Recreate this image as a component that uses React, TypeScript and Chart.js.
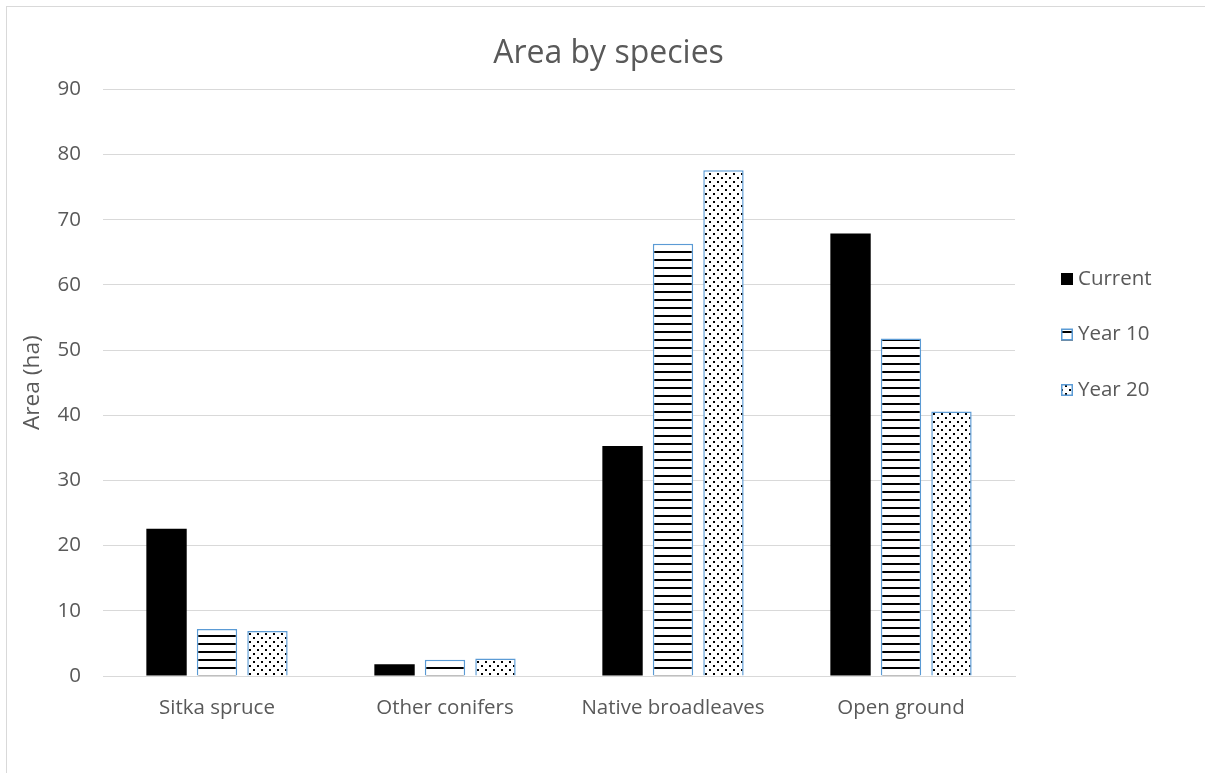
import React, { useEffect, useRef } from "react";
import { Chart, registerables } from "chart.js";

Chart.register(...registerables);

const categories = ["Sitka spruce", "Other conifers", "Native broadleaves", "Open ground"];
const seriesNames = ["Current", "Year 10", "Year 20"];
const currentValues = [22.6, 1.8, 35.3, 67.9];
const year10Values = [7.2, 2.5, 66.3, 51.8];
const year20Values = [6.9, 2.7, 77.6, 40.6];
const yMin = 0;
const yMax = 90;
const yStep = 10;
const chartTitle = "Area by species";
const yAxisTitle = "Area (ha)";

const FONT = "'Open Sans', sans-serif";
const TEXT = "#595959";
const GRID = "#d9d9d9";
const BLUE = "#5b9bd5";

function makeLinesPattern(ctx: CanvasRenderingContext2D) {
  const c = document.createElement("canvas");
  c.width = 8;
  c.height = 8;
  const g = c.getContext("2d")!;
  g.fillStyle = "#ffffff";
  g.fillRect(0, 0, 8, 8);
  g.fillStyle = "#000000";
  g.fillRect(0, 3, 8, 2);
  return ctx.createPattern(c, "repeat")!;
}

function makeDotsPattern(ctx: CanvasRenderingContext2D) {
  const c = document.createElement("canvas");
  c.width = 8;
  c.height = 8;
  const g = c.getContext("2d")!;
  g.fillStyle = "#ffffff";
  g.fillRect(0, 0, 8, 8);
  g.fillStyle = "#000000";
  g.fillRect(1, 1, 2, 2);
  g.fillRect(5, 5, 2, 2);
  return ctx.createPattern(c, "repeat")!;
}

const legendPlugin = {
  id: "customLegend",
  afterDraw(chart: any) {
    const ctx: CanvasRenderingContext2D = chart.ctx;
    const x0 = 1061;
    const y0 = 279;
    const gap = 55.5;
    const box = 12;
    ctx.save();
    chart.data.datasets.forEach((ds: any, i: number) => {
      const cy = y0 + i * gap;
      ctx.fillStyle = ds.backgroundColor;
      ctx.fillRect(x0, cy - box / 2, box, box);
      if (ds.borderWidth) {
        ctx.strokeStyle = ds.borderColor;
        ctx.lineWidth = 1.5;
        ctx.strokeRect(x0 + 0.75, cy - box / 2 + 0.75, box - 1.5, box - 1.5);
      }
      ctx.fillStyle = TEXT;
      ctx.font = `20.5px ${FONT}`;
      ctx.textBaseline = "middle";
      ctx.textAlign = "left";
      ctx.fillText(ds.label, x0 + box + 5, cy);
    });
    ctx.restore();
  },
};

export default function App() {
  const ref = useRef<HTMLCanvasElement>(null);

  useEffect(() => {
    const canvas = ref.current!;
    const ctx = canvas.getContext("2d")!;
    const lines = makeLinesPattern(ctx);
    const dots = makeDotsPattern(ctx);

    const chart = new Chart(canvas, {
      type: "bar",
      data: {
        labels: categories,
        datasets: [
          {
            label: seriesNames[0],
            data: currentValues,
            backgroundColor: "#000000",
            borderWidth: 0,
          },
          {
            label: seriesNames[1],
            data: year10Values,
            backgroundColor: lines as any,
            borderColor: BLUE,
            borderWidth: 1.5,
          },
          {
            label: seriesNames[2],
            data: year20Values,
            backgroundColor: dots as any,
            borderColor: BLUE,
            borderWidth: 1.5,
          },
        ],
      },
      options: {
        responsive: false,
        animation: false,
        devicePixelRatio: 1,
        datasets: {
          bar: {
            categoryPercentage: 0.664,
            barPercentage: 0.8,
          },
        },
        layout: {
          padding: { left: 12, right: 0, top: 0, bottom: 37 },
        },
        plugins: {
          legend: { display: false },
          tooltip: { enabled: false },
          title: {
            display: true,
            text: chartTitle,
            color: TEXT,
            font: { family: FONT, size: 32, weight: "normal" as any },
            padding: { top: 35, bottom: 16 },
          },
        },
        scales: {
          x: {
            grid: { display: false, drawTicks: false },
            border: { display: true, color: GRID, width: 1 },
            ticks: {
              color: TEXT,
              font: { family: FONT, size: 20.5 },
              padding: 20,
              maxRotation: 0,
            },
            afterFit: (s: any) => {
              s.height = 60;
            },
          },
          y: {
            min: yMin,
            max: yMax,
            ticks: {
              stepSize: yStep,
              color: TEXT,
              font: { family: FONT, size: 20.5 },
              padding: 22,
            },
            grid: { color: GRID, lineWidth: 1, drawTicks: false },
            border: { display: false },
            title: {
              display: true,
              text: yAxisTitle,
              color: TEXT,
              font: { family: FONT, size: 22.7 },
              padding: { top: 7, bottom: 0 },
            },
            afterFit: (s: any) => {
              s.width = 91;
            },
          },
          legendSpace: {
            type: "linear",
            position: "right",
            display: true,
            ticks: { display: false },
            grid: { display: false, drawTicks: false },
            border: { display: false },
            afterFit: (s: any) => {
              s.width = 190;
            },
          },
        },
      },
      plugins: [legendPlugin],
    });

    return () => chart.destroy();
  }, []);

  return (
    <div style={{ position: "absolute", left: 0, top: 0, width: 1205, height: 773, background: "#fff" }}>
      <div
        style={{
          position: "absolute",
          left: 6,
          top: 6,
          width: 1199,
          height: 767,
          borderTop: `1px solid ${GRID}`,
          borderLeft: `1px solid ${GRID}`,
          boxSizing: "border-box",
        }}
      />
      <canvas ref={ref} width={1205} height={773} style={{ position: "absolute", left: 0, top: 0 }} />
    </div>
  );
}
